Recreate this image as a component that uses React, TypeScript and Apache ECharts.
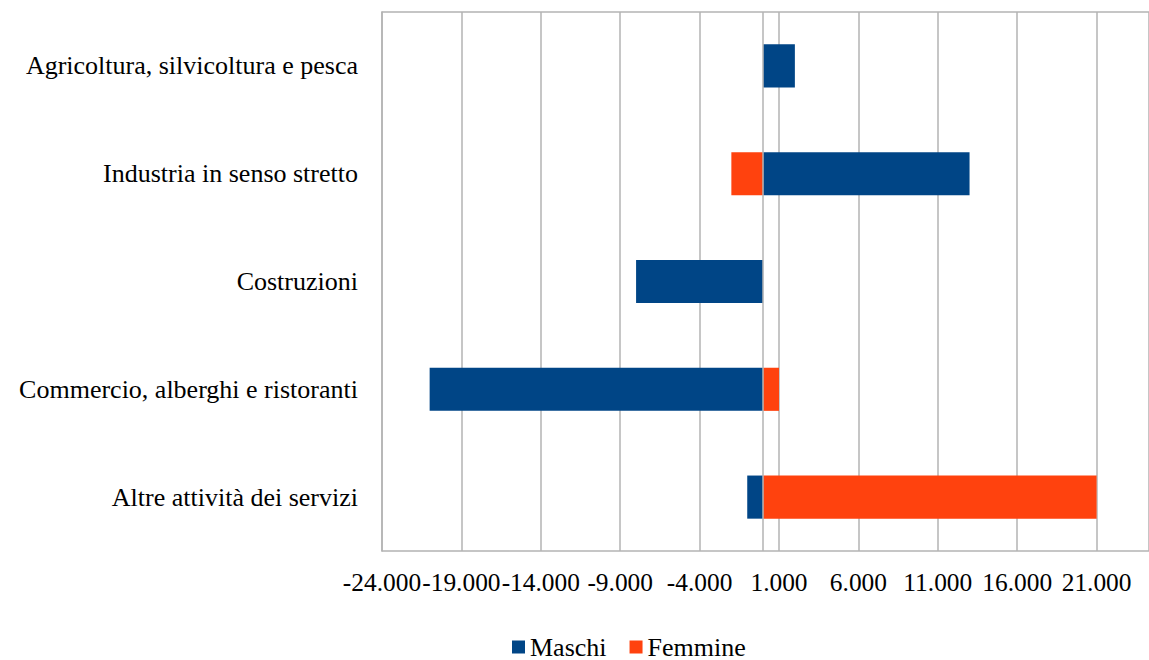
import React, { useEffect, useRef } from "react";
import * as echarts from "echarts";

const categories = [
  "Agricoltura, silvicoltura e pesca",
  "Industria in senso stretto",
  "Costruzioni",
  "Commercio, alberghi e ristoranti",
  "Altre attività dei servizi",
];
const maschi = [2000, 13000, -8000, -21000, -1000];
const femmine = [0, -2000, 0, 1000, 21000];
const axisMin = -24000;
const axisMax = 24300;
const axisInterval = 5000;

const fmt = (v: number) => {
  const s = Math.abs(Math.round(v)).toString().replace(/\B(?=(\d{3})+(?!\d))/g, ".");
  return (v < 0 ? "-" : "") + s;
};

const FONT = "Liberation Serif";
const GRID = "#b3b3b3";

export default function App() {
  const ref = useRef<HTMLDivElement>(null);
  useEffect(() => {
    if (!ref.current) return;
    const chart = echarts.init(ref.current, undefined, { renderer: "svg" });
    chart.setOption({
      animation: false,
      backgroundColor: "#ffffff",
      textStyle: { fontFamily: FONT },
      grid: {
        left: 382,
        top: 12,
        bottom: 109,
        right: 0,
        containLabel: false,
      },
      legend: {
        left: 507,
        top: 629,
        icon: "rect",
        itemWidth: 13,
        itemHeight: 13,
        itemGap: 23,
        textStyle: { fontFamily: FONT, fontSize: 26, color: "#000" },
        data: ["Maschi", "Femmine"],
      },
      xAxis: [
        {
          type: "value",
          min: axisMin,
          max: axisMax,
          interval: axisInterval,
          axisLine: { show: true, lineStyle: { color: GRID, width: 1.5 } },
          axisTick: { show: false },
          splitLine: { show: true, lineStyle: { color: GRID, width: 1.5 } },
          axisLabel: {
            showMinLabel: true,
            showMaxLabel: false,
            hideOverlap: false,
            formatter: (v: number) => fmt(v),
            fontFamily: FONT,
            fontSize: 25.4,
            color: "#000",
            margin: 18,
          },
        },
        {
          type: "value",
          position: "top",
          min: axisMin,
          max: axisMax,
          interval: axisInterval,
          axisLine: { show: true, lineStyle: { color: GRID, width: 1.5 } },
          axisTick: { show: false },
          splitLine: { show: false },
          axisLabel: { show: false },
        },
      ],
      yAxis: {
        type: "category",
        inverse: true,
        data: categories,
        axisLine: { show: true, onZero: false, lineStyle: { color: GRID, width: 1.5 } },
        axisTick: { show: false },
        splitLine: { show: false },
        axisLabel: { fontFamily: FONT, fontSize: 26, color: "#000", margin: 24 },
      },
      series: [
        {
          name: "Maschi",
          type: "bar",
          stack: "tot",
          barWidth: "40%",
          data: maschi,
          itemStyle: { color: "#004586" },
          markLine: {
            silent: true,
            symbol: "none",
            label: { show: false },
            lineStyle: { color: GRID, type: "solid", width: 1.5 },
            data: [{ xAxis: 0 }],
          },
        },
        {
          name: "Femmine",
          type: "bar",
          stack: "tot",
          barWidth: "40%",
          data: femmine,
          itemStyle: { color: "#ff420e" },
        },
      ],
    });
    return () => chart.dispose();
  }, []);
  return (
    <div
      ref={ref}
      style={{ position: "fixed", left: 0, top: 0, width: 1149, height: 660 }}
    />
  );
}
